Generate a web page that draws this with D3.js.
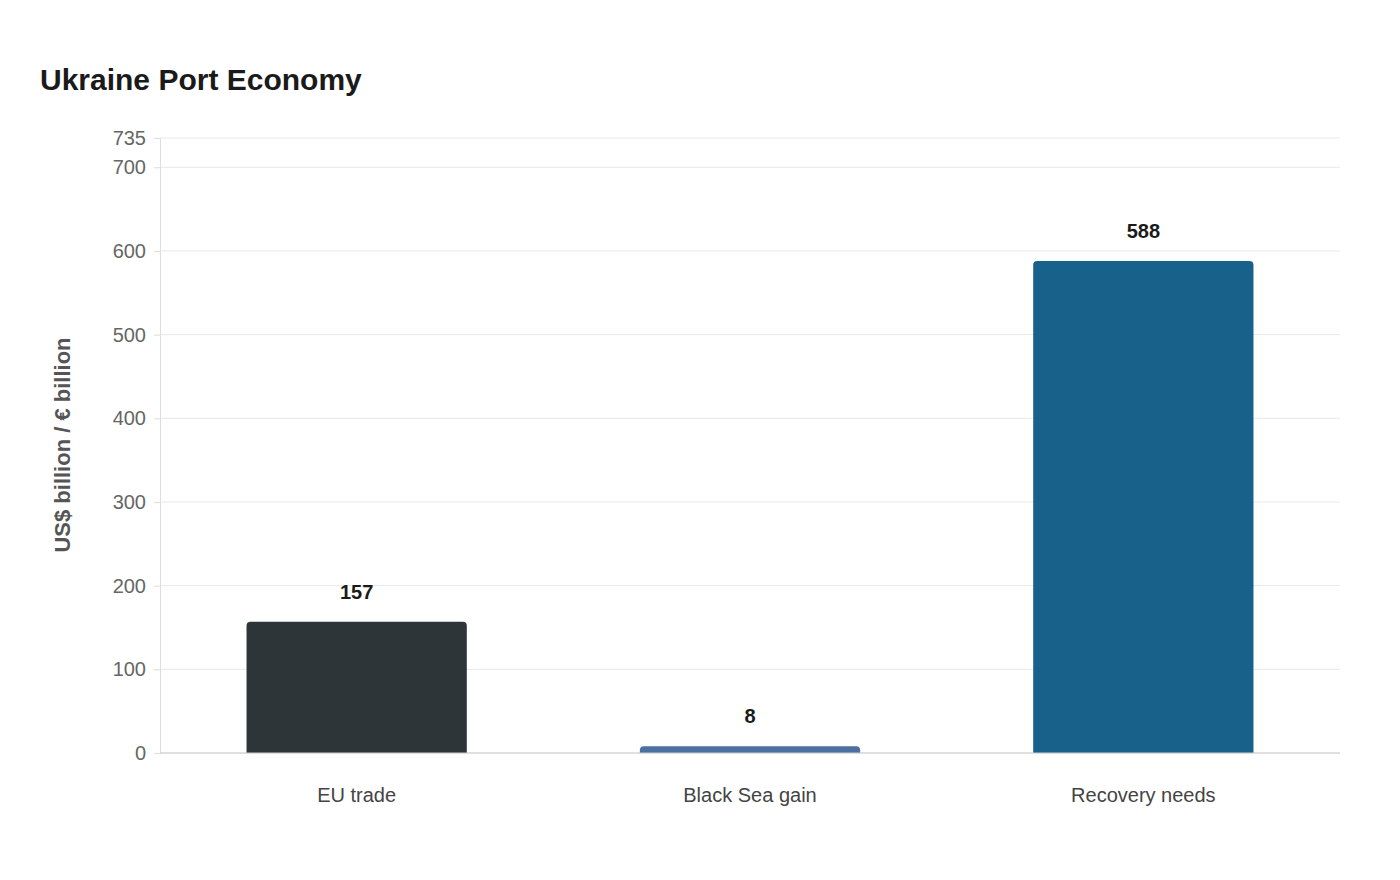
<!DOCTYPE html>
<html><head><meta charset="utf-8">
<script src="https://cdn.jsdelivr.net/npm/d3@7"></script>
<style>body{margin:0;background:#fff;font-family:"Liberation Sans",Arial,sans-serif}</style>
</head><body><div id="chart"></div>
<script>
const categories = ["EU trade", "Black Sea gain", "Recovery needs"];
const values = [157, 8, 588];
const colors = ["#2d3538", "#4a6fa0", "#17618a"];
const yTicks = [0, 100, 200, 300, 400, 500, 600, 700, 735];

const width = 1400, height = 880;
const m = {left: 160, right: 60, top: 138, bottom: 127};

const svg = d3.select("#chart").append("svg").attr("width", width).attr("height", height);

const x = d3.scaleBand().domain(categories).range([m.left, width - m.right])
  .paddingInner(0.44).paddingOuter(0.22);
const y = d3.scaleLinear().domain([0, 735]).range([height - m.bottom, m.top]);

svg.append("text").attr("x", 40).attr("y", 90).text("Ukraine Port Economy")
  .style("font-size", "30px").style("font-weight", "bold").attr("fill", "#1a1a1a");

// grid
svg.append("g").selectAll("line").data(yTicks).join("line")
  .attr("x1", m.left).attr("x2", width - m.right)
  .attr("y1", d => y(d)).attr("y2", d => y(d))
  .attr("stroke", "#e8e8e8");

const yAxis = svg.append("g").attr("transform", `translate(${m.left},0)`)
  .call(d3.axisLeft(y).tickValues(yTicks).tickSize(6).tickPadding(8));
yAxis.select(".domain").attr("stroke", "#ddd");
yAxis.selectAll(".tick line").attr("stroke", "#ddd");
yAxis.selectAll("text").style("font-size", "20px").attr("fill", "#666")
  .style("font-family", "Liberation Sans, Arial, sans-serif");

svg.append("text").attr("transform", `translate(70,445) rotate(-90)`)
  .attr("text-anchor", "middle").text("US$ billion / € billion")
  .style("font-size", "22px").style("font-weight", "bold").attr("fill", "#555");

const r = 4;
svg.append("g").selectAll("path").data(values).join("path")
  .attr("fill", (d, i) => colors[i])
  .attr("d", (d, i) => {
    const x0 = x(categories[i]), w = x.bandwidth(), y0 = y(d), y1 = y(0);
    const rr = Math.min(r, (y1 - y0));
    return `M${x0},${y1}V${y0 + rr}Q${x0},${y0} ${x0 + rr},${y0}H${x0 + w - rr}Q${x0 + w},${y0} ${x0 + w},${y0 + rr}V${y1}Z`;
  });

svg.append("g").selectAll("text").data(values).join("text")
  .attr("x", (d, i) => x(categories[i]) + x.bandwidth() / 2)
  .attr("y", d => y(d) - 23).attr("text-anchor", "middle").text(d => d)
  .style("font-size", "20px").style("font-weight", "bold").attr("fill", "#1a1a1a");

svg.append("line").attr("x1", m.left).attr("x2", width - m.right)
  .attr("y1", y(0)).attr("y2", y(0)).attr("stroke", "#ccc");

svg.append("g").selectAll("text").data(categories).join("text")
  .attr("x", d => x(d) + x.bandwidth() / 2).attr("y", 802)
  .attr("text-anchor", "middle").text(d => d)
  .style("font-size", "20px").attr("fill", "#444");
</script></body></html>
